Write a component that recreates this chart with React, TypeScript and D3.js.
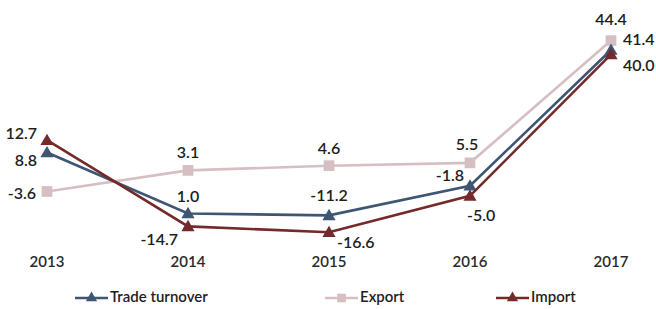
import * as d3 from "d3";

const years = ["2013", "2014", "2015", "2016", "2017"];

const turnover = [8.8, -10.6, -11.2, -1.8, 41.4];
const exportVals = [-3.6, 3.1, 4.6, 5.5, 44.4];
const importVals = [12.7, -14.7, -16.6, -5.0, 40.0];

// labels as printed on the chart
const turnoverLabels = ["8.8", "1.0", "-11.2", "-1.8", "41.4"];
const exportLabels = ["-3.6", "3.1", "4.6", "5.5", "44.4"];
const importLabels = ["12.7", "-14.7", "-16.6", "-5.0", "40.0"];

type Place = { dx: number; dy: number; anchor: string };

const series = [
  {
    name: "Trade turnover",
    values: turnover,
    labels: turnoverLabels,
    color: "#3d5674",
    marker: "triangle",
    place: [
      { dx: -10, dy: 9, anchor: "end" },
      { dx: 0, dy: -16, anchor: "middle" },
      { dx: 0, dy: -18, anchor: "middle" },
      { dx: -6, dy: -9, anchor: "end" },
      { dx: 12, dy: -9, anchor: "start" },
    ] as Place[],
  },
  {
    name: "Export",
    values: exportVals,
    labels: exportLabels,
    color: "#d6bfc3",
    marker: "square",
    place: [
      { dx: -11, dy: 3, anchor: "end" },
      { dx: 0, dy: -16, anchor: "middle" },
      { dx: 0, dy: -16, anchor: "middle" },
      { dx: -3, dy: -17, anchor: "middle" },
      { dx: 0, dy: -20, anchor: "middle" },
    ] as Place[],
  },
  {
    name: "Import",
    values: importVals,
    labels: importLabels,
    color: "#742a2a",
    marker: "triangle",
    place: [
      { dx: -10, dy: -5, anchor: "end" },
      { dx: -10, dy: 15, anchor: "end" },
      { dx: 8, dy: 12, anchor: "start" },
      { dx: -3, dy: 21, anchor: "start" },
      { dx: 12, dy: 12, anchor: "start" },
    ] as Place[],
  },
];

const width = 656;
const height = 309;
const font = "Lato, 'Open Sans', sans-serif";

const x = d3.scalePoint().domain(years).range([47, 611]);
const y = d3.scaleLinear().domain([-20, 50]).range([243, 23]);

const tri = d3.symbol().type(d3.symbolTriangle).size(75);
const sq = d3.symbol().type(d3.symbolSquare).size(115);
const triSmall = d3.symbol().type(d3.symbolTriangle).size(55);
const sqSmall = d3.symbol().type(d3.symbolSquare).size(75);

const line = d3
  .line<number>()
  .x((_, i) => x(years[i]) as number)
  .y((v) => y(v));

const legendItems = [
  { si: 0, x0: 75 },
  { si: 1, x0: 325 },
  { si: 2, x0: 496 },
];

export default function App() {
  return (
    <svg
      width={width}
      height={height}
      style={{ position: "absolute", left: 0, top: 0, background: "#fff" }}
    >
      {[1, 0, 2].map((si) => {
        const s = series[si];
        return (
          <g key={s.name}>
            <path
              d={line(s.values) || ""}
              fill="none"
              stroke={s.color}
              strokeWidth={2.6}
            />
            {s.values.map((v, i) => (
              <path
                key={i}
                d={(s.marker === "square" ? sq : tri)() || ""}
                transform={`translate(${x(years[i])},${y(v) + (s.marker === "triangle" ? 1 : 0)})`}
                fill={s.color}
              />
            ))}
          </g>
        );
      })}
      {series.map((s) =>
        s.values.map((v, i) => (
          <text
            key={s.name + i}
            x={(x(years[i]) as number) + s.place[i].dx}
            y={y(v) + s.place[i].dy}
            textAnchor={s.place[i].anchor}
            dominantBaseline="middle"
            fontFamily={font}
            fontWeight={600}
            fontSize={16}
            fill="#1e1e1e"
          >
            {s.labels[i]}
          </text>
        ))
      )}
      {years.map((yr) => (
        <text
          key={yr}
          x={x(yr)}
          y={263}
          textAnchor="middle"
          dominantBaseline="middle"
          fontFamily={font}
          fontWeight={600}
          fontSize={15}
          fill="#2a2a2a"
        >
          {yr}
        </text>
      ))}
      {legendItems.map(({ si, x0 }) => {
        const s = series[si];
        return (
          <g key={s.name} transform={`translate(${x0},298)`}>
            <line x1={0} x2={33} y1={0} y2={0} stroke={s.color} strokeWidth={2.6} />
            <path
              d={(s.marker === "square" ? sqSmall : triSmall)() || ""}
              transform="translate(16.5,0)"
              fill={s.color}
            />
            <text
              x={35}
              y={0}
              dominantBaseline="middle"
              fontFamily={font}
              fontWeight={600}
              fontSize={15}
              fill="#1e1e1e"
            >
              {s.name}
            </text>
          </g>
        );
      })}
    </svg>
  );
}
